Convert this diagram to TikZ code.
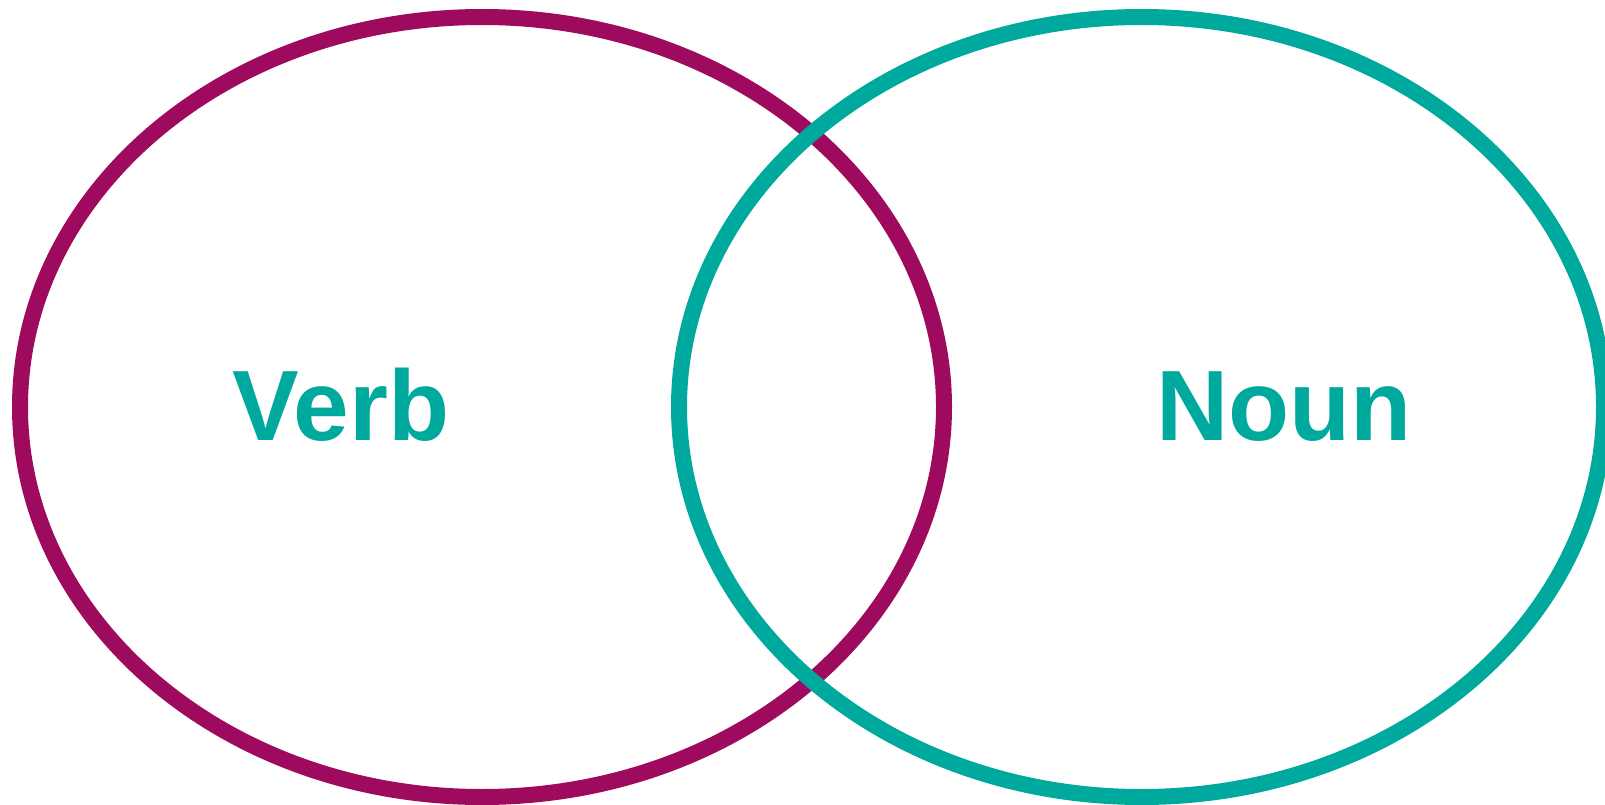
\documentclass[tikz,border=0pt]{standalone}
\usepackage{fontspec}
\setmainfont{Liberation Sans}
\definecolor{verbc}{HTML}{9E0A5E}
\definecolor{nounc}{HTML}{00A99D}
\begin{document}
\begin{tikzpicture}[x=1pt,y=-1pt,
  ring/.style={line width=16pt},
  word/.style={text=nounc,anchor=base,inner sep=0pt,font=\fontsize{100}{110}\selectfont\bfseries}]
\useasboundingbox (0,0) rectangle (1605,805);
\clip (0,0) rectangle (1605,805);
\draw[ring,verbc] (482,407) ellipse [x radius=462,y radius=390];
\draw[ring,nounc] (1141.5,407) ellipse [x radius=462.5,y radius=390];
\node[word] (verb) at (341,440) {Verb};
\node[word] (noun) at (1284,440) {Noun};
\end{tikzpicture}
\end{document}
